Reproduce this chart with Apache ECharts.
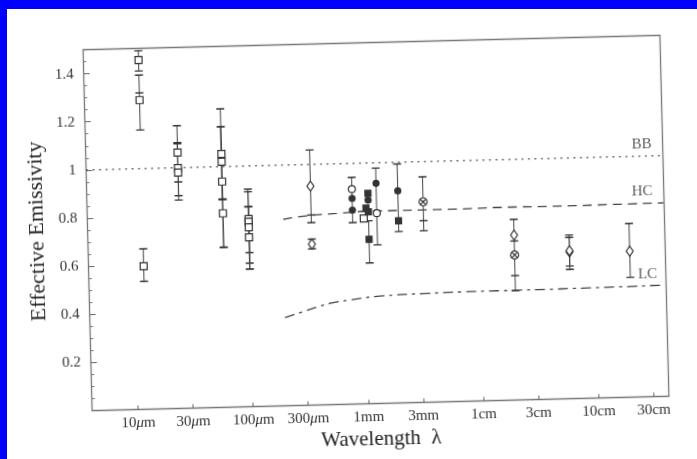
<!DOCTYPE html>
<html><head><meta charset="utf-8">
<script src="https://cdn.jsdelivr.net/npm/echarts@6/dist/echarts.min.js"></script>
<style>
html,body{margin:0;padding:0;background:#fff;overflow:hidden}
#wrap{position:relative;width:697px;height:459px;overflow:hidden;background:#fff}
#chart{position:absolute;left:0;top:0;width:697px;height:459px;transform-origin:376px 223px;transform:rotate(-1.43deg)}
#bt{position:absolute;left:0;top:0;width:697px;height:9px;background:#0000ff;z-index:5}
#bl{position:absolute;left:0;top:0;width:7px;height:459px;background:#0000ff;z-index:5}
</style></head>
<body><div id="wrap"><div id="chart"></div><div id="bt"></div><div id="bl"></div></div>
<script>
// ---- data (wavelength in micrometres) ----
const tickLam = [10, 30, 100, 300, 1000, 3000, 1e4, 3e4, 1e5, 3e5];
const tickText = ['10μm', '30μm', '100μm', '300μm', '1mm', '3mm', '1cm', '3cm', '10cm', '30cm'];
const yTicks = [0.2, 0.4, 0.6, 0.8, 1, 1.2, 1.4];

// open squares
const sqLam = [12, 12, 12, 25, 25, 25, 60, 60, 60, 60, 100, 100, 100, 100, 1000];
const sqVal = [1.452, 1.285, 0.595, 1.063, 0.999, 0.98, 1.053, 1.021, 0.938, 0.806, 0.78, 0.768, 0.745, 0.704, 0.77];
const sqLo  = [1.406, 1.161, 0.532, 0.884, 0.941, 0.866, 0.864, 0.864, 0.665, 0.665, 0.64, 0.596, 0.572, 0.572, null];
const sqHi  = [1.49, 1.389, 0.667, 1.175, 1.104, 1.10, 1.24, 1.166, 1.166, 0.864, 0.904, 0.893, 0.831, 0.831, null];
// open diamonds
const dmLam = [350, 350, 20000, 60000, 60000, 200000];
const dmVal = [0.91, 0.669, 0.686, 0.61, 0.615, 0.607];
const dmLo  = [0.758, 0.649, null, 0.551, 0.537, 0.498];
const dmHi  = [1.06, 0.69, null, 0.68, 0.67, 0.722];
// filled circles
const fcLam = [800, 800, 1300, 1100, 2000];
const fcVal = [0.855, 0.806, 0.915, 0.846, 0.881];
const fcLo  = [null, null, 0.659, null, 0.712];
const fcHi  = [null, null, 0.978, null, 0.993];
// filled squares
const fsLam = [1100, 1050, 1100, 1100, 2000];
const fsVal = [0.874, 0.813, 0.797, 0.683, 0.757];
const fsLo  = [null, null, null, 0.585, null];
const fsHi  = [null, null, null, 0.76, null];
// open circles
const ocLam = [800, 1300];
const ocVal = [0.893, 0.791];
const ocLo  = [0.754, null];
const ocHi  = [0.942, null];
// circles with cross
const xcLam = [3300, 20000];
const xcVal = [0.833, 0.603];
const xcLo  = [0.713, 0.455];
const xcHi  = [0.937, 0.751];
// extra error-bar caps
const capLam = [12, 350, 3300, 20000, 20000];
const capVal = [1.315, 0.79, 0.755, 0.661, 0.517];

// model curves
const bbLam = [4, 400000];
const bbVal = [1, 1];
const hcLam = [200, 300, 585, 1160, 5750, 15500, 51300, 400000];
const hcVal = [0.775, 0.786, 0.794, 0.80, 0.799, 0.802, 0.8015, 0.804];
const lcLam = [197, 327, 489, 730, 1330, 3330, 6900, 14700, 48900, 400000];
const lcVal = [0.366, 0.398, 0.421, 0.433, 0.446, 0.452, 0.455, 0.456, 0.457, 0.462];
const curveLabels = ['BB', 'HC', 'LC'];
const curveLabelLam = [268000, 264000, 283000];
const curveLabelVal = [1.047, 0.852, 0.51];

// ---- build ----
const L = Math.log10;
const pts = (lam, val) => lam.map((l, i) => [L(l), val[i]]);
const errs = [];
[[sqLam, sqLo, sqHi], [dmLam, dmLo, dmHi], [fcLam, fcLo, fcHi], [fsLam, fsLo, fsHi], [ocLam, ocLo, ocHi], [xcLam, xcLo, xcHi]]
  .forEach(([lam, lo, hi]) => lam.forEach((l, i) => { if (lo[i] != null) errs.push([L(l), lo[i], hi[i]]); }));

const INK = '#333';
const FONT = '"Liberation Serif", "DejaVu Serif", serif';
const CAP = 4;

const chart = echarts.init(document.getElementById('chart'), null, {renderer: 'canvas'});
const circX = 'path://M0,10A10,10 0 1,1 20,10A10,10 0 1,1 0,10Z M3,3L17,17 M17,3L3,17';

const markerStyle = (fill) => ({color: fill, borderColor: INK, borderWidth: 1.2, opacity: 1});

chart.setOption({
  animation: false,
  backgroundColor: 'transparent',
  grid: {left: 87.5, right: 32.5, top: 42.5, bottom: 55.5, show: true, borderColor: '#777', borderWidth: 1.3, backgroundColor: 'transparent'},
  xAxis: {
    type: 'value', min: 0.60, max: 5.61,
    name: 'Wavelength  λ', nameLocation: 'middle', nameGap: 24,
    nameTextStyle: {fontFamily: FONT, fontSize: 21, color: '#222'},
    axisLine: {show: false},
    splitLine: {show: false},
    axisTick: {show: true, inside: true, length: 4, lineStyle: {color: '#666'}, customValues: tickLam.map(L)},
    axisLabel: {
      show: true, margin: 6, customValues: tickLam.map(L),
      fontFamily: FONT, fontSize: 15, color: '#333',
      formatter: (v) => {
        const i = tickLam.findIndex(t => Math.abs(L(t) - v) < 1e-6);
        return i < 0 ? '' : tickText[i].replace('μ', '{mu|μ}');
      },
      rich: {mu: {fontFamily: FONT, fontSize: 15, fontStyle: 'italic', color: '#333'}}
    }
  },
  yAxis: [{
    type: 'value', min: 0, max: 1.5, interval: 0.05,
    name: 'Effective Emissivity', nameLocation: 'middle', nameGap: 36, nameRotate: 90,
    nameTextStyle: {fontFamily: FONT, fontSize: 22, color: '#222'},
    axisLine: {show: false}, splitLine: {show: false},
    axisTick: {show: true, inside: true, length: 3, lineStyle: {color: '#777'}},
    axisLabel: {
      margin: 10, fontFamily: FONT, fontSize: 15, color: '#333',
      formatter: (v) => {
        const ok = yTicks.some(t => Math.abs(t - v) < 1e-6);
        return ok ? String(+v.toFixed(1)) : '';
      }
    }
  }, {
    type: 'value', min: 0, max: 1.5, position: 'left',
    axisLine: {show: false}, splitLine: {show: false}, axisLabel: {show: false},
    axisTick: {show: true, inside: true, length: 6, lineStyle: {color: '#666'}, customValues: yTicks}
  }],
  series: [
    {type: 'line', name: 'BB', data: pts(bbLam, bbVal), showSymbol: false, symbol: 'none', clip: true,
     lineStyle: {color: '#444', width: 1.5, type: [1.5, 5]}, z: 2},
    {type: 'line', name: 'HC', data: pts(hcLam, hcVal), smooth: 0.4, symbol: 'none', clip: true,
     lineStyle: {color: '#444', width: 1.3, type: [9, 6]}, z: 2},
    {type: 'line', name: 'LC', data: pts(lcLam, lcVal), smooth: 0.4, symbol: 'none', clip: true,
     lineStyle: {color: '#444', width: 1.3, type: [10, 5, 3, 5]}, z: 2},
    {type: 'custom', name: 'err', data: errs, z: 3, clip: true,
     renderItem: (params, api) => {
       const x = api.value(0);
       const a = api.coord([x, api.value(1)]);
       const b = api.coord([x, api.value(2)]);
       const st = {stroke: '#444', lineWidth: 1};
       return {type: 'group', children: [
         {type: 'line', shape: {x1: a[0], y1: a[1], x2: b[0], y2: b[1]}, style: st},
         {type: 'line', shape: {x1: a[0] - CAP, y1: a[1], x2: a[0] + CAP, y2: a[1]}, style: {stroke: '#333', lineWidth: 1.4}},
         {type: 'line', shape: {x1: b[0] - CAP, y1: b[1], x2: b[0] + CAP, y2: b[1]}, style: {stroke: '#333', lineWidth: 1.4}}
       ]};
     }},
    {type: 'custom', name: 'caps', data: pts(capLam, capVal), z: 3,
     renderItem: (params, api) => {
       const p = api.coord([api.value(0), api.value(1)]);
       return {type: 'line', shape: {x1: p[0] - CAP, y1: p[1], x2: p[0] + CAP, y2: p[1]}, style: {stroke: '#333', lineWidth: 1.4}};
     }},
    {type: 'scatter', name: 'sq', data: pts(sqLam, sqVal), symbol: 'rect', symbolSize: 7, itemStyle: markerStyle('#fff'), z: 4},
    {type: 'scatter', name: 'dm', data: pts(dmLam, dmVal), symbol: 'diamond', symbolSize: [7, 10], itemStyle: markerStyle('#fff'), z: 4},
    {type: 'scatter', name: 'oc', data: pts(ocLam, ocVal), symbol: 'circle', symbolSize: 7, itemStyle: markerStyle('#fff'), z: 4},
    {type: 'scatter', name: 'xc', data: pts(xcLam, xcVal), symbol: circX, symbolSize: 8, itemStyle: markerStyle('#fff'), z: 4},
    {type: 'scatter', name: 'fs', data: pts(fsLam, fsVal), symbol: 'rect', symbolSize: 6, itemStyle: markerStyle('#333'), z: 5},
    {type: 'scatter', name: 'fc', data: pts(fcLam, fcVal), symbol: 'circle', symbolSize: 6, itemStyle: markerStyle('#333'), z: 5},
    {type: 'scatter', name: 'labels', symbolSize: 1, itemStyle: {color: 'transparent'}, z: 6,
     data: curveLabels.map((n, i) => ({name: n, value: [L(curveLabelLam[i]), curveLabelVal[i]]})),
     label: {show: true, position: 'inside', formatter: '{b}', fontFamily: FONT, fontSize: 15, color: '#333'}}
  ]
});
</script>
</body></html>
